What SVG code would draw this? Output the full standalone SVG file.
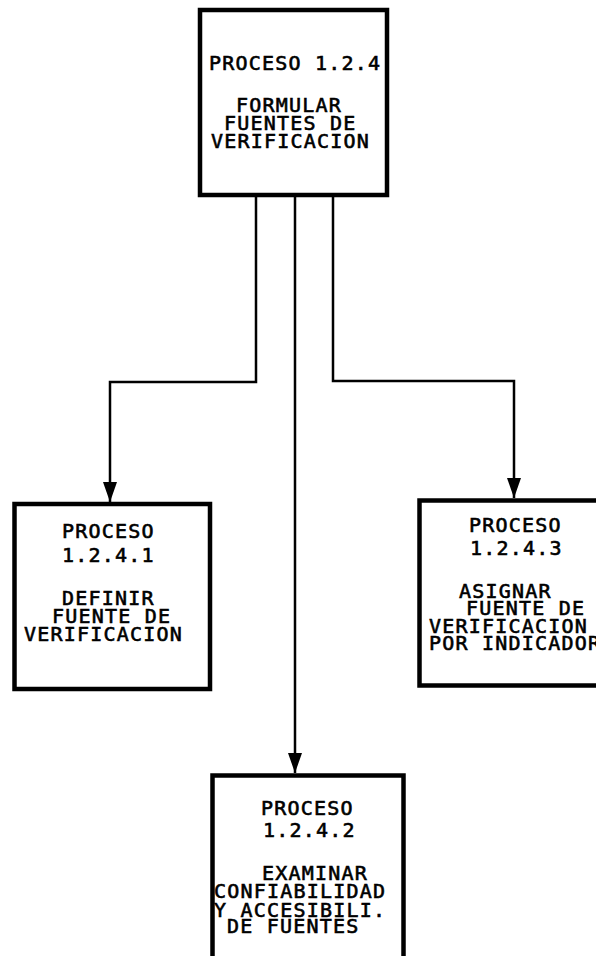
<svg xmlns="http://www.w3.org/2000/svg" width="596" height="956" viewBox="0 0 596 956">
<style>
.box{fill:#fff;stroke:#000;stroke-width:4.5}
.t{font-family:"DejaVu Sans Mono","Liberation Mono",monospace;font-size:20px;letter-spacing:1.2px;fill:#000;stroke:#000;stroke-width:0.6}
.c{fill:none;stroke:#000;stroke-width:2.5}
</style>
<defs>
<marker id="ah" viewBox="0 0 20 14" refX="20" refY="7" markerWidth="20" markerHeight="14" markerUnits="userSpaceOnUse" orient="auto">
<path d="M0,0 L20,7 L0,14 z" fill="#000"/>
</marker>
</defs>
<rect width="596" height="956" fill="#fff"/>
<g id="connectors">
<polyline class="c" points="256,195 256,382 110,382 110,502" marker-end="url(#ah)"/>
<line class="c" x1="295" y1="195" x2="295" y2="773" marker-end="url(#ah)"/>
<polyline class="c" points="333,195 333,381 514,381 514,498" marker-end="url(#ah)"/>
</g>
<g id="p124">
<rect class="box" x="200" y="10" width="187" height="185"/>
<text class="t" x="209" y="70">PROCESO 1.2.4</text>
<text class="t" x="236" y="112">FORMULAR</text>
<text class="t" x="224" y="130">FUENTES DE</text>
<text class="t" x="211" y="148">VERIFICACION</text>
</g>
<g id="p1241">
<rect class="box" x="14.5" y="504" width="195.5" height="185"/>
<text class="t" x="62" y="538">PROCESO</text>
<text class="t" x="62" y="562">1.2.4.1</text>
<text class="t" x="62" y="605">DEFINIR</text>
<text class="t" x="52" y="623">FUENTE DE</text>
<text class="t" x="24" y="641">VERIFICACION</text>
</g>
<g id="p1243">
<rect class="box" x="419.5" y="500.5" width="200" height="185"/>
<text class="t" x="469" y="532">PROCESO</text>
<text class="t" x="470" y="555">1.2.4.3</text>
<text class="t" x="459" y="598">ASIGNAR</text>
<text class="t" x="466" y="615">FUENTE DE</text>
<text class="t" x="429" y="633">VERIFICACION</text>
<text class="t" x="429" y="650">POR INDICADOR</text>
</g>
<g id="p1242">
<rect class="box" x="212.5" y="775.5" width="191" height="200"/>
<text class="t" x="261" y="815">PROCESO</text>
<text class="t" x="263" y="837">1.2.4.2</text>
<text class="t" x="262" y="880">EXAMINAR</text>
<text class="t" x="214" y="898">CONFIABILIDAD</text>
<text class="t" x="214" y="917">Y ACCESIBILI.</text>
<text class="t" x="227" y="933">DE FUENTES</text>
</g>
</svg>
